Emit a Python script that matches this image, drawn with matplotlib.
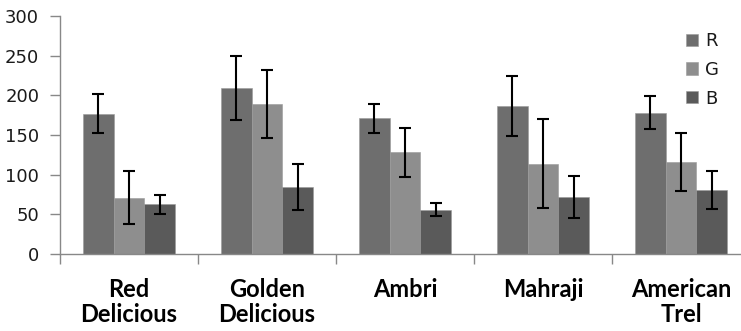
import matplotlib
matplotlib.use('Agg')
import matplotlib.pyplot as plt
import numpy as np

# fruit varieties and mean colour channel values with error
categories = ['Red\nDelicious', 'Golden\nDelicious', 'Ambri', 'Mahraji', 'American\nTrel']
series = ['R', 'G', 'B']
r_vals = [177, 209, 171, 187, 178]
g_vals = [71, 189, 128, 114, 116]
b_vals = [63, 85, 56, 72, 81]
r_err = [25, 40, 18, 38, 21]
g_err = [33, 43, 31, 56, 37]
b_err = [12, 29, 8, 26, 24]
y_ticks = [0, 50, 100, 150, 200, 250, 300]

colors = ['#6e6e6e', '#8e8e8e', '#5a5a5a']

fig = plt.figure(figsize=(7.41, 3.31), dpi=100, facecolor='white')
ax = fig.add_axes([60 / 741, 77 / 331, 690 / 741, 238 / 331])

x = np.arange(len(categories))
w = 0.222
for i, (vals, errs) in enumerate(zip([r_vals, g_vals, b_vals], [r_err, g_err, b_err])):
    ax.bar(x + (i - 1) * w, vals, width=w, color=colors[i], edgecolor='#9a9a9a',
           linewidth=0.4, label=series[i],
           yerr=errs, error_kw=dict(ecolor='black', elinewidth=1.5, capsize=4, capthick=1.5))

ax.set_xlim(-0.5, len(categories) - 0.5)
ax.set_ylim(0, 300)
ax.set_yticks(y_ticks)
ax.set_yticklabels([str(t) for t in y_ticks], fontsize=13, color='#1a1a1a')

# boundaries as major ticks, names on minor ticks
ax.set_xticks(np.arange(len(categories) + 1) - 0.5)
ax.set_xticklabels([])
ax.set_xticks(x, minor=True)
ax.set_xticklabels(categories, minor=True, fontsize=17, fontweight='bold',
                   family='Lato', linespacing=1.15, va='top')
ax.tick_params(axis='x', which='major', length=7, width=1, color='#888888', direction='out')
ax.tick_params(axis='x', which='minor', length=0, pad=17)
ax.tick_params(axis='y', length=7, width=1, color='#888888', direction='out', pad=8)

for s in ['top', 'right']:
    ax.spines[s].set_visible(False)
for s in ['left', 'bottom']:
    ax.spines[s].set_color('#888888')
    ax.spines[s].set_linewidth(1)

leg = ax.legend(loc='upper left', bbox_to_anchor=(686 / 741, 1 - 32 / 331),
                bbox_transform=fig.transFigure, frameon=False, fontsize=13,
                handlelength=0.65, handleheight=0.65, handletextpad=0.4,
                labelspacing=0.6, borderaxespad=0, borderpad=0)
for t in leg.get_texts():
    t.set_color('#1a1a1a')

plt.savefig('out.png', dpi=100, facecolor='white')
